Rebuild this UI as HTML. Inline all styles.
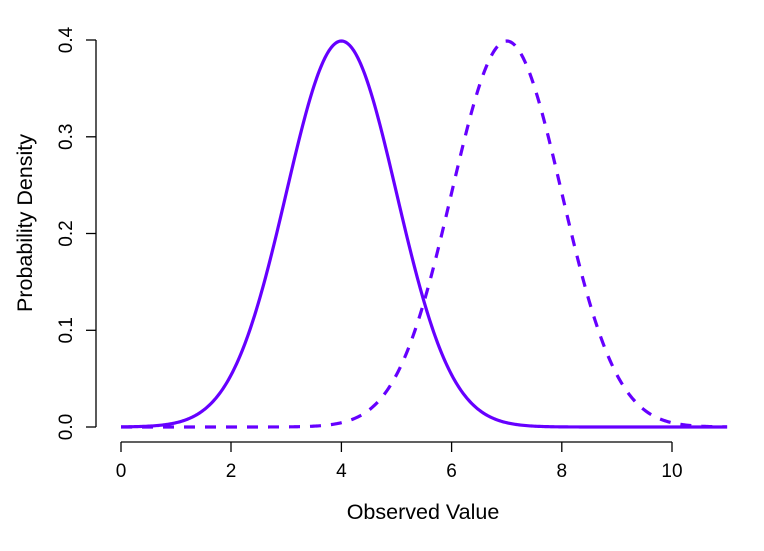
<!DOCTYPE html>
<html><head><style>
body{margin:0;background:#fff;}
text{font-family:"Liberation Sans",sans-serif;font-size:19px;fill:#000;}
.t{font-size:21.5px;}
</style></head><body>
<svg id="s" width="764" height="546" xmlns="http://www.w3.org/2000/svg">
<g stroke="#000" stroke-width="1.3" fill="none">
<line x1="121" y1="442" x2="672" y2="442"/>
<line x1="121" y1="442" x2="121" y2="452"/>
<line x1="231" y1="442" x2="231" y2="452"/>
<line x1="341.4" y1="442" x2="341.4" y2="452"/>
<line x1="451.6" y1="442" x2="451.6" y2="452"/>
<line x1="561.8" y1="442" x2="561.8" y2="452"/>
<line x1="672" y1="442" x2="672" y2="452"/>
<line x1="96" y1="40" x2="96" y2="427"/>
<line x1="86" y1="427" x2="96" y2="427"/>
<line x1="86" y1="330.3" x2="96" y2="330.3"/>
<line x1="86" y1="233.5" x2="96" y2="233.5"/>
<line x1="86" y1="136.8" x2="96" y2="136.8"/>
<line x1="86" y1="40" x2="96" y2="40"/>
</g>
<g text-anchor="middle">
<text x="121" y="477">0</text><text x="231" y="477">2</text><text x="341.4" y="477">4</text>
<text x="451.6" y="477">6</text><text x="561.8" y="477">8</text><text x="672" y="477">10</text>
<text class="t" x="423" y="519">Observed Value</text>
<text transform="translate(72,427) rotate(-90)">0.0</text>
<text transform="translate(72,330.3) rotate(-90)">0.1</text>
<text transform="translate(72,233.5) rotate(-90)">0.2</text>
<text transform="translate(72,136.8) rotate(-90)">0.3</text>
<text transform="translate(72,40) rotate(-90)">0.4</text>
<text class="t" transform="translate(32,223) rotate(-90)">Probability Density</text>
</g>
<path id="a" fill="none" stroke="#6600FF" stroke-width="3.2"/>
<path id="b" fill="none" stroke="#6600FF" stroke-width="3.2" stroke-dasharray="11,10"/>
</svg>
<script>
function p(m){var d="";for(var i=0;i<=440;i++){var x=i*11/440;var y=Math.exp(-(x-m)*(x-m)/2)/Math.sqrt(2*Math.PI);d+=(i?"L":"M")+(121+x*55.1).toFixed(2)+","+(427-y*967.5).toFixed(2);}return d;}
document.getElementById("a").setAttribute("d",p(4));
document.getElementById("b").setAttribute("d",p(7));
</script>
</body></html>
